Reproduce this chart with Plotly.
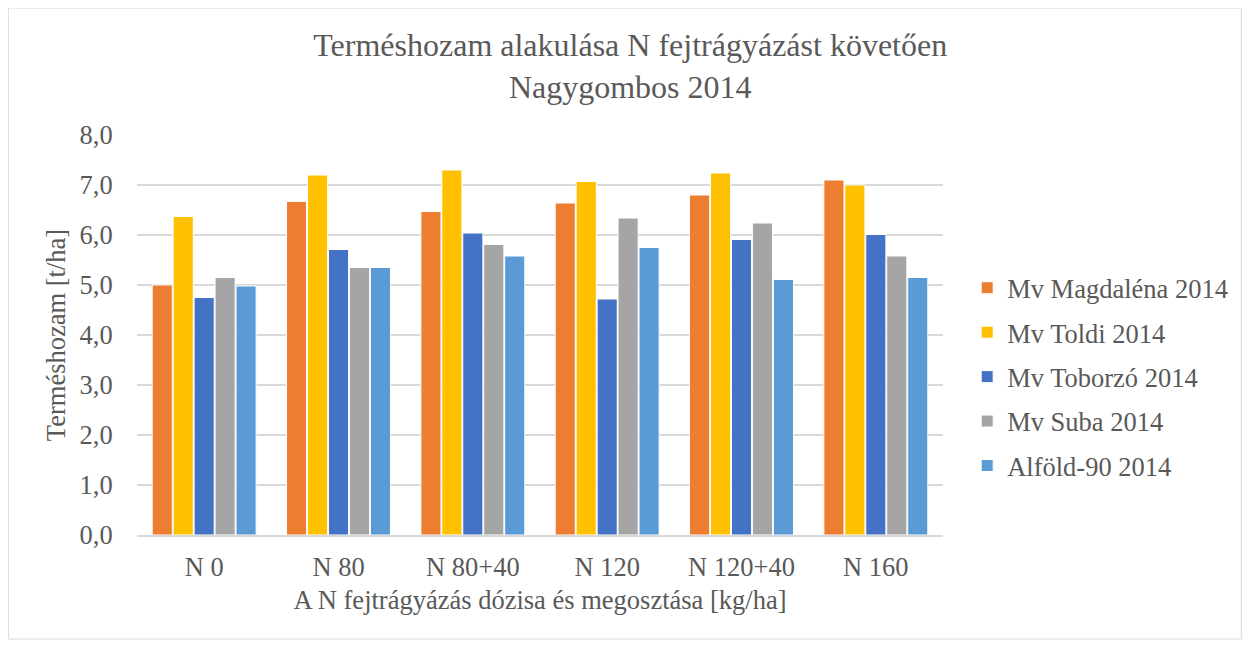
import plotly.graph_objects as go

categories = ["N 0", "N 80", "N 80+40", "N 120", "N 120+40", "N 160"]
series_names = ["Mv Magdaléna 2014", "Mv Toldi 2014", "Mv Toborzó 2014", "Mv Suba 2014", "Alföld-90 2014"]
magdalena = [5.00, 6.67, 6.47, 6.64, 6.80, 7.10]
toldi = [6.37, 7.20, 7.30, 7.07, 7.24, 7.00]
toborzo = [4.75, 5.71, 6.04, 4.72, 5.91, 6.01]
suba = [5.15, 5.35, 5.81, 6.34, 6.24, 5.58]
alfold = [4.98, 5.35, 5.58, 5.75, 5.11, 5.15]
y_ticks = [0, 1, 2, 3, 4, 5, 6, 7, 8]
y_tick_labels = ["0,0", "1,0", "2,0", "3,0", "4,0", "5,0", "6,0", "7,0", "8,0"]

colors = ["#ED7D31", "#FFC000", "#4472C4", "#A5A5A5", "#5B9BD5"]
values = [magdalena, toldi, toborzo, suba, alfold]

font_family = "Liberation Serif"
text_color = "#595959"
fs = 26.5

W, H = 1237, 632
L, R, T, B = 129, 300, 127, 105
pw, ph = W - L - R, H - T - B

fig = go.Figure()
for name, vals, col in zip(series_names, values, colors):
    fig.add_trace(go.Bar(
        x=categories, y=vals, name=name, legendgroup=name,
        marker=dict(color=col, line=dict(color="white", width=1)),
    ))

fig.update_layout(
    width=W, height=H,
    barmode="group", bargap=0.22, bargroupgap=0.04,
    plot_bgcolor="white", paper_bgcolor="white",
    margin=dict(l=L, r=R, t=T, b=B),
    font=dict(family=font_family, color=text_color, size=fs),
    title=dict(
        text="Terméshozam alakulása N fejtrágyázást követően<br>Nagygombos 2014",
        x=0.503, xanchor="center", xref="container", y=0.924, yanchor="top", yref="container",
        font=dict(family=font_family, size=32, color=text_color),
    ),
    xaxis=dict(
        title=dict(text="A N fejtrágyázás dózisa és megosztása [kg/ha]", font=dict(size=fs), standoff=10),
        showline=True, linecolor="#D9D9D9", linewidth=1.5,
        ticks="outside", ticklen=7, tickcolor="rgba(0,0,0,0)",
        tickfont=dict(size=fs),
    ),
    yaxis=dict(
        title=dict(text="Terméshozam [t/ha]", font=dict(size=fs), standoff=6),
        range=[0, 8], tickvals=y_ticks, ticktext=y_tick_labels,
        showgrid=True, gridcolor="#D9D9D9", gridwidth=1.5, zeroline=False,
        ticks="outside", ticklen=18, tickcolor="rgba(0,0,0,0)",
        tickfont=dict(size=fs),
    ),
    legend=dict(
        x=1.03, xanchor="left", y=0.395, yanchor="middle",
        font=dict(size=fs, color=text_color), tracegroupgap=7,
        itemwidth=30,
    ),
    shapes=[dict(type="rect", xref="paper", yref="paper",
                 x0=(0 - L) / pw, x1=(W - 1 - L) / pw, y0=(ph + T - (H - 1)) / ph, y1=(ph + T) / ph,
                 line=dict(color="#D9D9D9", width=1), fillcolor="rgba(0,0,0,0)", layer="below")],
)

fig.write_html("out.html")
